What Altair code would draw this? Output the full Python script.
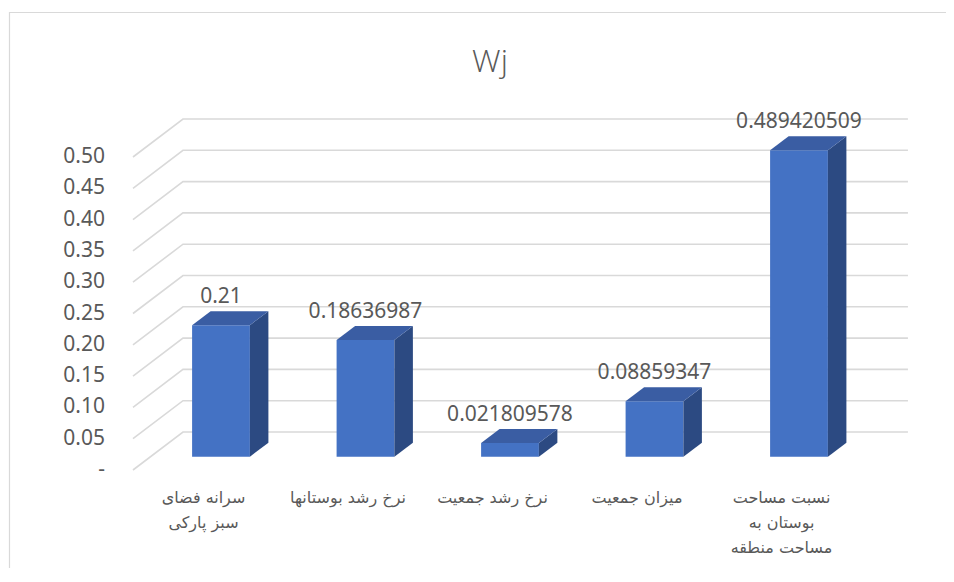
import altair as alt
import pandas as pd

# ---------------- data ----------------
categories = [
    "سرانه فضای\nسبز پارکی",
    "نرخ رشد بوستانها",
    "نرخ رشد جمعیت",
    "میزان جمعیت",
    "نسبت مساحت\nبوستان به\nمساحت منطقه",
]
values = [0.21, 0.18636987, 0.021809578, 0.08859347, 0.489420509]
value_labels = ["0.21", "0.18636987", "0.021809578", "0.08859347", "0.489420509"]
tick_values = [0.00, 0.05, 0.10, 0.15, 0.20, 0.25, 0.30, 0.35, 0.40, 0.45, 0.50]
tick_labels = ["-\u2007", "0.05", "0.10", "0.15", "0.20", "0.25", "0.30", "0.35", "0.40", "0.45", "0.50"]
title_text = "Wj"

# ---------------- 3D geometry (style) ----------------
W, H = 938, 560
X_DOMAIN = [-1.35294, 5.13841]
Y_DOMAIN = [-0.15655, 0.73802]
HALF = 0.2               # half bar width (category units)
DX = 50 / 144.5          # wall depth, x units
DY = 38 / 626            # wall depth, value units
D_FRONT = 0.35           # bar front plane depth fraction
D_BACK = 0.72            # bar back plane depth fraction
WALL_LEFT = -0.488
WALL_RIGHT = 4.875

TEXT = "#595959"
GRID = "#D9D9D9"
FRONT = "#4472C4"
SIDE = "#2C4A82"
TOP = "#3A5DA3"

xs = alt.Scale(domain=X_DOMAIN, nice=False, zero=False)
ys = alt.Scale(domain=Y_DOMAIN, nice=False, zero=False)

# ---------------- tables ----------------
rows_front, rows_side, rows_top, rows_lab = [], [], [], []
for i, (c, v, lab) in enumerate(zip(categories, values, value_labels)):
    fx = D_FRONT * DX
    bx = D_BACK * DX
    fy = D_FRONT * DY
    by = D_BACK * DY
    rows_front.append(dict(cat=c, x=i - HALF + fx, x2=i + HALF + fx, y=fy, y2=v + fy))
    rows_side.append(dict(cat=c, x=i + HALF + fx, y=fy, y2=v + fy))
    rows_side.append(dict(cat=c, x=i + HALF + bx, y=by, y2=v + by))
    rows_top.append(dict(cat=c, y=v + fy, x=i - HALF + fx, x2=i + HALF + fx))
    rows_top.append(dict(cat=c, y=v + by, x=i - HALF + bx, x2=i + HALF + bx))
    rows_lab.append(dict(cat=c, lab=lab, x=i + fx, y=v + by, cx=i, cy=0.0))

front_df = pd.DataFrame(rows_front)
side_df = pd.DataFrame(rows_side)
top_df = pd.DataFrame(rows_top)
lab_df = pd.DataFrame(rows_lab)

grid_rows = []
for t in tick_values:
    grid_rows.append(dict(t=t, o=0, x=WALL_LEFT, y=t))
    grid_rows.append(dict(t=t, o=1, x=WALL_LEFT + DX, y=t + DY))
    grid_rows.append(dict(t=t, o=2, x=WALL_RIGHT, y=t + DY))
grid_df = pd.DataFrame(grid_rows)
tick_df = pd.DataFrame(dict(t=tick_values, lab=tick_labels, x=[WALL_LEFT] * len(tick_values)))

# ---------------- layers ----------------
grid = alt.Chart(grid_df).mark_line(color=GRID, strokeWidth=1.6).encode(
    x=alt.X("x:Q", scale=xs, axis=None),
    y=alt.Y("y:Q", scale=ys, axis=None),
    detail="t:N",
    order="o:Q",
)

ylabels = alt.Chart(tick_df).mark_text(
    align="right", baseline="middle", dx=-28, fontSize=21, font="Noto Sans", color=TEXT
).encode(
    x=alt.X("x:Q", scale=xs, axis=None),
    y=alt.Y("t:Q", scale=ys, axis=None),
    text="lab:N",
)

front = alt.Chart(front_df).mark_rect(color=FRONT).encode(
    x=alt.X("x:Q", scale=xs, axis=None),
    x2="x2:Q",
    y=alt.Y("y:Q", scale=ys, axis=None),
    y2="y2:Q",
)

side = alt.Chart(side_df).mark_area(color=SIDE, opacity=1).encode(
    x=alt.X("x:Q", scale=xs, axis=None),
    y=alt.Y("y:Q", scale=ys, axis=None),
    y2="y2:Q",
    detail="cat:N",
)

top = alt.Chart(top_df).mark_area(color=TOP, orient="horizontal", opacity=1).encode(
    y=alt.Y("y:Q", scale=ys, axis=None),
    x=alt.X("x:Q", scale=xs, axis=None),
    x2="x2:Q",
    detail="cat:N",
)

vlabels = alt.Chart(lab_df).mark_text(
    align="center", baseline="bottom", dy=-4, fontSize=21, font="Noto Sans", color=TEXT
).encode(
    x=alt.X("x:Q", scale=xs, axis=None),
    y=alt.Y("y:Q", scale=ys, axis=None),
    text="lab:N",
)

clabels = alt.Chart(lab_df).mark_text(
    align="center", baseline="top", dy=20, fontSize=16, font="DejaVu Sans",
    color=TEXT, lineBreak="\n", lineHeight=25,
).encode(
    x=alt.X("cx:Q", scale=xs, axis=None),
    y=alt.Y("cy:Q", scale=ys, axis=None),
    text="cat:N",
)

title = alt.Chart(pd.DataFrame(dict(t=[title_text]))).mark_text(
    align="center", baseline="middle", fontSize=32, font="Open Sans", fontWeight=300, color=TEXT
).encode(x=alt.value(482), y=alt.value(54), text="t:N")

border_left = alt.Chart(pd.DataFrame(dict(a=[0]))).mark_rule(color=GRID, strokeWidth=1.2).encode(
    x=alt.value(1.5), y=alt.value(4), y2=alt.value(H)
)
border_top = alt.Chart(pd.DataFrame(dict(a=[0]))).mark_rule(color=GRID, strokeWidth=1.2).encode(
    x=alt.value(1), x2=alt.value(W), y=alt.value(4.5)
)

chart = alt.layer(
    border_left, border_top, grid, ylabels, front, side, top, vlabels, clabels, title
).properties(
    width=W, height=H, autosize="none", padding=0, background="white"
).configure_view(stroke=None)

chart.save("out.html", embed_options={"renderer": "svg", "actions": False})
